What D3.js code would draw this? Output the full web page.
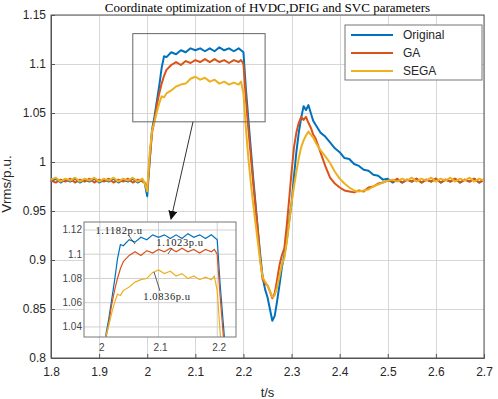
<!DOCTYPE html>
<html>
<head>
<meta charset="utf-8">
<script src="https://cdn.jsdelivr.net/npm/d3@7"></script>
<style>
  body { margin: 0; background: #fff; }
  svg { display: block; }
  text { font-family: "Liberation Sans", Arial, sans-serif; }
</style>
</head>
<body>
<svg width="498" height="399"></svg>
<script>
// time axis (s)
var time = [1.80,1.81,1.82,1.83,1.84,1.85,1.86,1.87,1.88,1.89,1.90,1.91,1.92,1.93,1.94,1.95,1.96,1.97,1.98,1.99,
  1.995,2.000,2.005,2.010,2.015,2.020,2.025,2.030,2.035,
  2.04,2.05,2.06,2.07,2.08,2.09,2.10,2.11,2.12,2.13,2.14,2.15,2.16,2.17,2.18,2.19,
  2.195,2.200,2.205,2.210,2.215,2.220,2.225,2.230,2.235,2.240,2.245,2.250,2.255,2.260,2.265,2.270,2.275,2.280,
  2.285,2.290,2.295,2.300,2.305,2.310,2.315,2.320,2.325,2.330,2.335,2.340,2.345,2.350,
  2.36,2.37,2.38,2.39,2.40,2.41,2.42,2.43,2.44,2.45,2.46,2.47,2.48,2.49,2.50,
  2.51,2.52,2.53,2.54,2.55,2.56,2.57,2.58,2.59,2.60,2.61,2.62,2.63,2.64,2.65,2.66,2.67,2.68,2.69,2.70];

var original = [0.980,0.983,0.979,0.982,0.980,0.983,0.979,0.982,0.980,0.983,0.979,0.982,0.980,0.983,0.979,0.982,0.980,0.983,0.979,0.982,
  0.978,0.965,1.000,1.033,1.046,1.062,1.078,1.096,1.108,
  1.107,1.112,1.110,1.114,1.112,1.116,1.114,1.116,1.113,1.116,1.113,1.117,1.114,1.116,1.113,1.116,
  1.114,1.112,1.075,1.045,1.015,0.985,0.958,0.930,0.905,0.882,0.870,0.862,0.850,0.838,0.843,0.858,0.875,0.893,
  0.905,0.920,0.940,0.958,0.985,1.010,1.030,1.045,1.057,1.053,1.058,1.050,1.042,1.038,
  1.030,1.026,1.020,1.014,1.010,1.004,1.003,0.998,0.996,0.992,0.991,0.987,0.986,0.982,0.983,
  0.979,0.982,0.979,0.982,0.980,0.983,0.979,0.982,0.980,0.983,0.979,0.982,0.980,0.983,0.979,0.982,0.980,0.983,0.979,0.982];

var ga = [0.981,0.979,0.982,0.980,0.983,0.979,0.982,0.980,0.983,0.979,0.982,0.980,0.983,0.979,0.982,0.980,0.983,0.979,0.982,0.980,
  0.979,0.972,1.002,1.030,1.042,1.058,1.070,1.080,1.088,
  1.094,1.099,1.102,1.099,1.103,1.101,1.104,1.102,1.105,1.102,1.105,1.102,1.104,1.101,1.104,1.102,
  1.104,1.100,1.065,1.035,1.008,0.980,0.955,0.930,0.900,0.880,0.876,0.874,0.868,0.861,0.866,0.880,0.895,0.905,
  0.912,0.935,0.962,0.990,1.015,1.030,1.040,1.046,1.043,1.046,1.040,1.035,1.028,1.024,
  1.010,0.996,0.984,0.978,0.974,0.971,0.970,0.969,0.971,0.970,0.974,0.975,0.978,0.979,0.981,
  0.980,0.983,0.979,0.982,0.980,0.983,0.979,0.982,0.980,0.983,0.979,0.982,0.980,0.983,0.979,0.982,0.980,0.983,0.979,0.982];

var sega = [0.982,0.984,0.980,0.983,0.981,0.984,0.980,0.983,0.981,0.984,0.980,0.983,0.981,0.984,0.980,0.983,0.981,0.984,0.980,0.983,
  0.978,0.970,1.008,1.032,1.041,1.051,1.060,1.067,1.066,
  1.070,1.073,1.077,1.079,1.080,1.085,1.087,1.084,1.086,1.082,1.084,1.080,1.082,1.079,1.081,1.079,
  1.082,1.070,1.035,1.005,0.980,0.958,0.938,0.918,0.898,0.882,0.878,0.874,0.868,0.862,0.864,0.872,0.884,0.896,
  0.902,0.918,0.938,0.958,0.975,0.990,1.004,1.015,1.022,1.027,1.031,1.028,1.025,1.020,
  1.012,1.006,0.999,0.990,0.983,0.978,0.974,0.971,0.970,0.971,0.972,0.975,0.977,0.979,0.981,
  0.982,0.980,0.983,0.981,0.984,0.980,0.983,0.981,0.984,0.980,0.983,0.981,0.984,0.980,0.983,0.981,0.984,0.980,0.983,0.981];

var seriesNames = ["Original", "GA", "SEGA"];
var colors = ["#0072BD", "#D95319", "#EDB120"];
var xTicks = [1.8,1.9,2.0,2.1,2.2,2.3,2.4,2.5,2.6,2.7];
var yTicks = [0.8,0.85,0.9,0.95,1.0,1.05,1.1,1.15];
var insetXTicks = [2.0,2.1,2.2];
var insetYTicks = [1.04,1.06,1.08,1.1,1.12];
var peakLabels = ["1.1182p.u", "1.1023p.u", "1.0836p.u"];

var svg = d3.select("svg");
var plotL = 51, plotR = 484, plotT = 15, plotB = 358;

var x = d3.scaleLinear().domain([1.8, 2.7]).range([plotL, plotR]);
var y = d3.scaleLinear().domain([0.8, 1.15]).range([plotB, plotT]);

var data = [original, ga, sega].map(function(vals) {
  return vals.map(function(v, i) { return [time[i], v]; });
});

// title
svg.append("text")
  .attr("x", (plotL + plotR) / 2).attr("y", 12)
  .attr("text-anchor", "middle")
  .style("font-family", "'Liberation Serif', 'Times New Roman', serif")
  .style("font-size", "13px")
  .text("Coordinate optimization of HVDC,DFIG and SVC parameters");

// grid
var grid = svg.append("g").attr("stroke", "#d6d6d6").attr("stroke-width", 1);
grid.selectAll(".gx").data(xTicks).enter().append("line")
  .attr("x1", d => Math.round(x(d)) + 0.5).attr("x2", d => Math.round(x(d)) + 0.5)
  .attr("y1", plotT).attr("y2", plotB);
grid.selectAll(".gy").data(yTicks).enter().append("line")
  .attr("y1", d => Math.round(y(d)) + 0.5).attr("y2", d => Math.round(y(d)) + 0.5)
  .attr("x1", plotL).attr("x2", plotR);

// axes
var xAxis = svg.append("g")
  .attr("transform", "translate(0," + plotB + ")")
  .call(d3.axisBottom(x).tickValues(xTicks).tickSize(-4).tickPadding(9).tickFormat(d3.format("")));
var yAxis = svg.append("g")
  .attr("transform", "translate(" + plotL + ",0)")
  .call(d3.axisLeft(y).tickValues(yTicks).tickSize(-4).tickPadding(5).tickFormat(d3.format("")));
[xAxis, yAxis].forEach(function(a) {
  a.selectAll("text").style("font-size", "12px").attr("fill", "#262626");
  a.selectAll("line, path").attr("stroke", "#555");
});
svg.append("rect")
  .attr("x", plotL).attr("y", plotT).attr("width", plotR - plotL).attr("height", plotB - plotT)
  .attr("fill", "none").attr("stroke", "#555");

svg.append("text")
  .attr("x", (plotL + plotR) / 2).attr("y", 397)
  .attr("text-anchor", "middle")
  .style("font-size", "13px").attr("fill", "#262626")
  .text("t/s");
svg.append("text")
  .attr("transform", "translate(11,184) rotate(-90)")
  .attr("text-anchor", "middle")
  .style("font-size", "13.5px").attr("fill", "#262626")
  .text("Vrms/p.u.");

// curves
var line = d3.line().x(d => x(d[0])).y(d => y(d[1]));
svg.append("g").selectAll("path").data(data).enter().append("path")
  .attr("d", line)
  .attr("fill", "none")
  .attr("stroke", (d, i) => colors[i])
  .attr("stroke-width", 2)
  .attr("stroke-linejoin", "round");

// zoom box and arrow
var zoomT = [1.97, 2.245], zoomV = [1.041, 1.131];
svg.append("rect")
  .attr("x", x(zoomT[0])).attr("y", y(zoomV[1]))
  .attr("width", x(zoomT[1]) - x(zoomT[0])).attr("height", y(zoomV[0]) - y(zoomV[1]))
  .attr("fill", "none").attr("stroke", "#666").attr("stroke-width", 1);

svg.append("defs").append("marker")
  .attr("id", "arr").attr("viewBox", "0 0 10 10").attr("refX", 9).attr("refY", 5)
  .attr("markerWidth", 9).attr("markerHeight", 9).attr("orient", "auto")
  .append("path").attr("d", "M0,0 L10,5 L0,10 Z").attr("fill", "#111");
svg.append("line")
  .attr("x1", 193).attr("y1", y(zoomV[0]))
  .attr("x2", 171).attr("y2", 219)
  .attr("stroke", "#333").attr("stroke-width", 1)
  .attr("marker-end", "url(#arr)");

// inset
var ix = d3.scaleLinear().domain([1.973, 2.232]).range([84, 236]);
var iy = d3.scaleLinear().domain([1.0317, 1.1266]).range([337, 222]);
var inset = svg.append("g");
inset.append("rect")
  .attr("x", 84).attr("y", 222).attr("width", 152).attr("height", 115)
  .attr("fill", "#fff");
inset.selectAll(".igx").data(insetXTicks).enter().append("line")
  .attr("x1", d => ix(d)).attr("x2", d => ix(d)).attr("y1", 222).attr("y2", 337)
  .attr("stroke", "#d0d0d0");
inset.selectAll(".igy").data(insetYTicks).enter().append("line")
  .attr("y1", d => iy(d)).attr("y2", d => iy(d)).attr("x1", 84).attr("x2", 236)
  .attr("stroke", "#d0d0d0");
inset.selectAll(".ity").data(insetYTicks).enter().append("text")
  .attr("x", 82).attr("y", d => iy(d)).attr("dy", "0.35em")
  .attr("text-anchor", "end")
  .style("font-size", "10px").attr("fill", "#444")
  .text(d => d3.format("")(d));
inset.selectAll(".itx").data(insetXTicks).enter().append("text")
  .attr("x", d => ix(d) + 2).attr("y", 351)
  .attr("text-anchor", "middle")
  .style("font-size", "10px").attr("fill", "#444")
  .text(d => d3.format("")(d));

svg.append("clipPath").attr("id", "iclip").append("rect")
  .attr("x", 84).attr("y", 222).attr("width", 152).attr("height", 115);
var iline = d3.line().x(d => ix(d[0])).y(d => iy(d[1]));
inset.append("g").attr("clip-path", "url(#iclip)")
  .selectAll("path").data(data).enter().append("path")
  .attr("d", iline)
  .attr("fill", "none")
  .attr("stroke", (d, i) => colors[i])
  .attr("stroke-width", 1.2);
inset.append("rect")
  .attr("x", 84).attr("y", 222).attr("width", 152).attr("height", 115)
  .attr("fill", "none").attr("stroke", "#777");

// peak annotations
var labelPos = [[119, 234], [180, 246], [167, 300]];
var pointers = [[[129, 236], [135, 244]], [[172, 248], [168, 254]], [[160, 291], [154, 272]]];
labelPos.forEach(function(p, i) {
  inset.append("text")
    .attr("x", p[0]).attr("y", p[1])
    .attr("text-anchor", "middle")
    .style("font-family", "'Liberation Serif', 'Times New Roman', serif")
    .style("font-size", "10.5px").style("letter-spacing", "0.6px")
    .attr("fill", "#222")
    .text(peakLabels[i]);
  inset.append("line")
    .attr("x1", pointers[i][0][0]).attr("y1", pointers[i][0][1])
    .attr("x2", pointers[i][1][0]).attr("y2", pointers[i][1][1])
    .attr("stroke", "#333").attr("stroke-width", 0.8);
});

// legend
var lg = svg.append("g");
lg.append("rect")
  .attr("x", 345).attr("y", 25).attr("width", 137).attr("height", 55)
  .attr("fill", "#fff").attr("stroke", "#777");
seriesNames.forEach(function(name, i) {
  var ly = 35 + i * 18;
  lg.append("line")
    .attr("x1", 351).attr("x2", 393).attr("y1", ly).attr("y2", ly)
    .attr("stroke", colors[i]).attr("stroke-width", 2);
  lg.append("text")
    .attr("x", 403).attr("y", ly).attr("dy", "0.35em")
    .style("font-size", "12px").attr("fill", "#262626")
    .text(name);
});
</script>
</body>
</html>
